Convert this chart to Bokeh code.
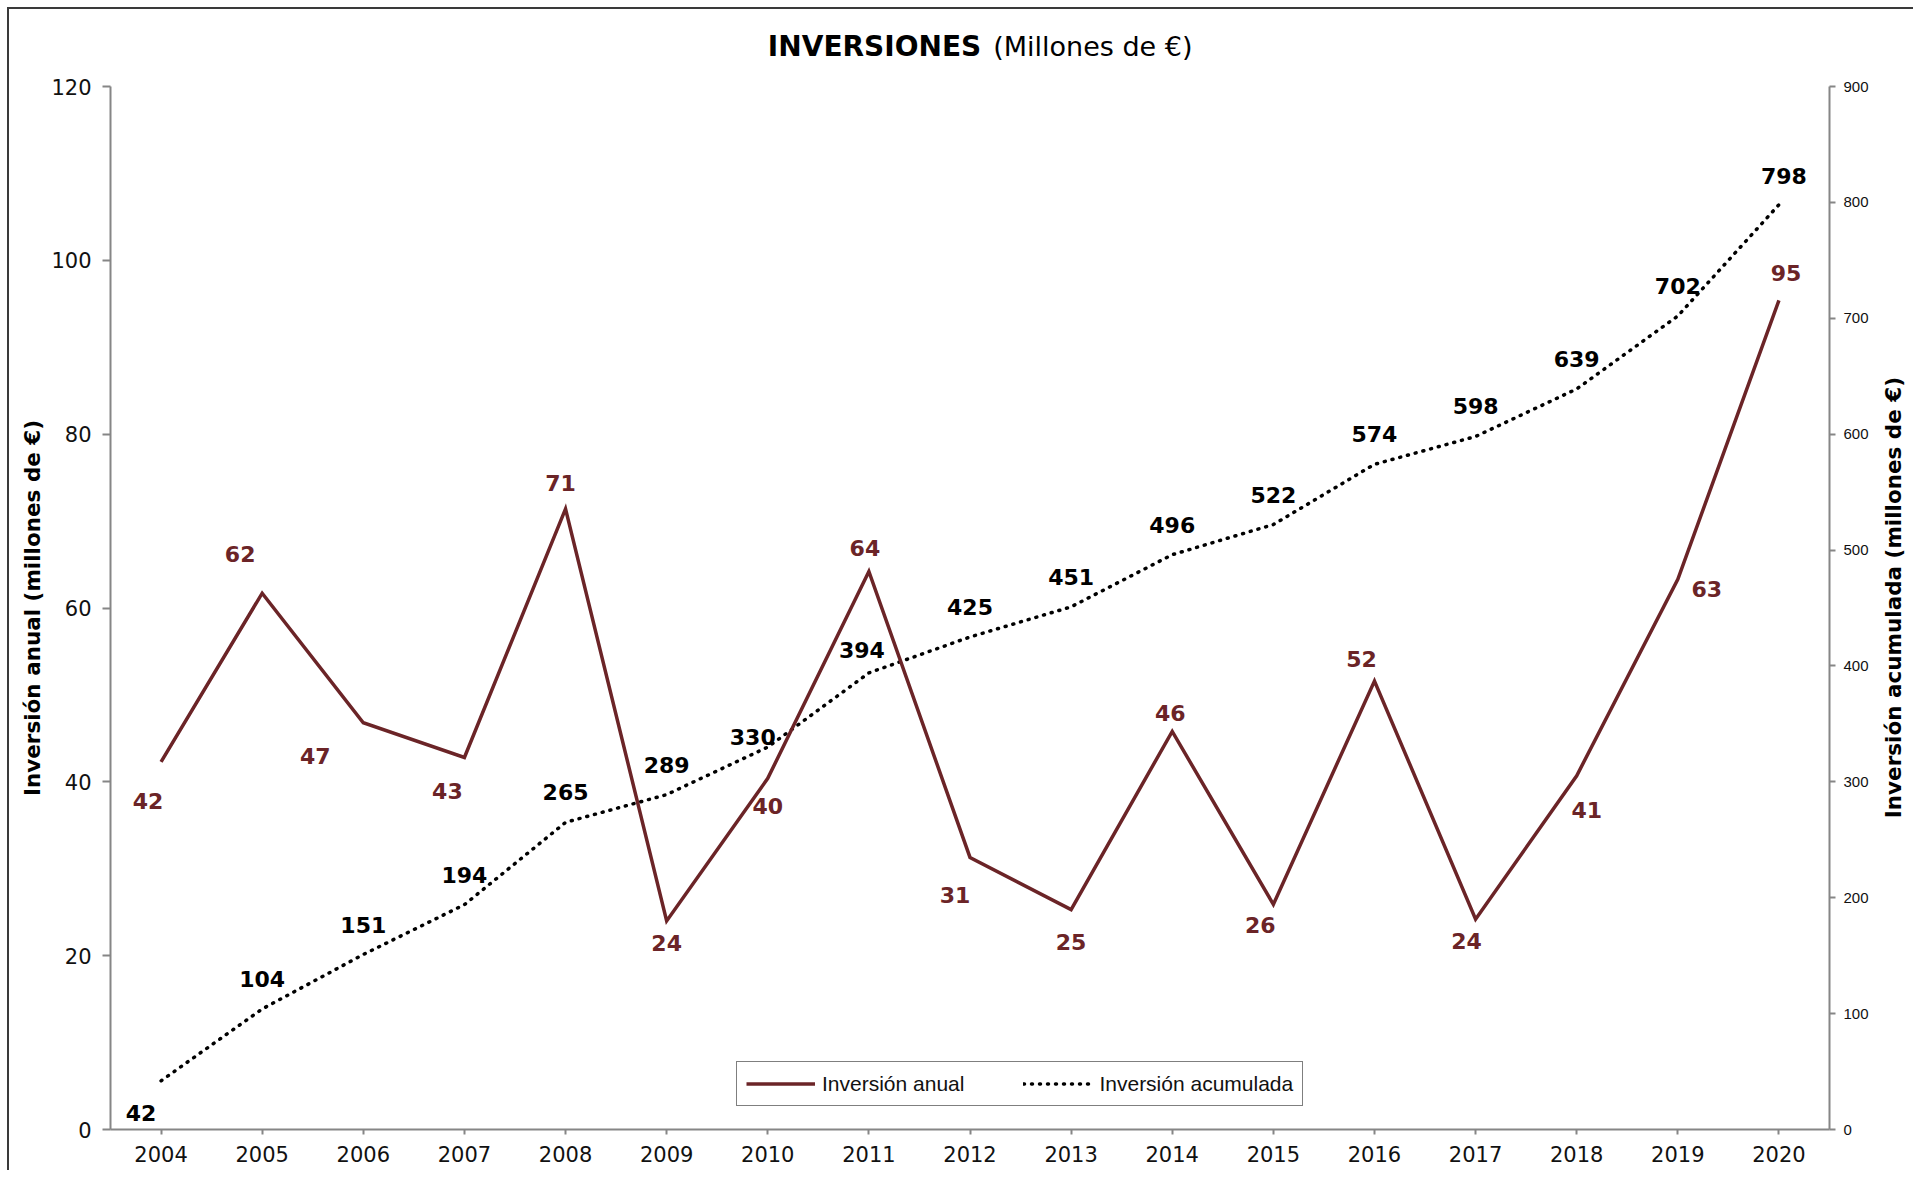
import math
from bokeh.plotting import figure
from bokeh.layouts import column, row
from bokeh.models import (ColumnDataSource, Range1d, LinearAxis, FixedTicker,
                          Label, Legend, LegendItem)
from bokeh.core.properties import value
from bokeh.embed import file_html
from bokeh.resources import INLINE

# ---------------- data ----------------
years = [2004, 2005, 2006, 2007, 2008, 2009, 2010, 2011, 2012, 2013, 2014,
         2015, 2016, 2017, 2018, 2019, 2020]
inversion_anual = [42.3, 61.7, 46.8, 42.8, 71.4, 24.0, 40.4, 64.2, 31.3, 25.3,
                   45.8, 25.9, 51.6, 24.2, 40.7, 63.3, 95.4]
inversion_acumulada = [42, 104, 151, 194, 265, 289, 330, 394, 425, 451, 496,
                       522, 574, 598, 639, 702, 798]
anual_labels = ["42", "62", "47", "43", "71", "24", "40", "64", "31", "25",
                "46", "26", "52", "24", "41", "63", "95"]
acum_labels = ["42", "104", "151", "194", "265", "289", "330", "394", "425",
               "451", "496", "522", "574", "598", "639", "702", "798"]
left_ticks = [0, 20, 40, 60, 80, 100, 120]
right_ticks = [0, 100, 200, 300, 400, 500, 600, 700, 800, 900]
LEFT_MAX = 120
RIGHT_MAX = 900

# label placement (screen px, +down)
anual_dx = [-13, -22, -48, -17, -5, 0, 0, -4, -15, 0, -2, -13, -13, -9, 10, 29, 7]
anual_dy = [39, -39, 33, 34, -26, 22, 28, -23, 38, 32, -18, 21, -22, 22, 34, 10, -27]
acum_dx = [-20, 0, 0, 0, 0, 0, -15, -7, 0, 0, 0, 0, 0, 0, 0, 0, 5]
acum_dy = [32, -30, -30, -30, -30, -30, -10, -23, -30, -30, -30, -30, -30, -30, -30, -30, -29]

BROWN = "#6B2427"
AXIS_GREY = "#868686"

src_a = ColumnDataSource(dict(x=years, y=inversion_anual, t=anual_labels,
                              dx=anual_dx, dy=anual_dy))
src_c = ColumnDataSource(dict(x=years, y=inversion_acumulada, t=acum_labels,
                              dx=acum_dx, dy=acum_dy))

EDGE = 9            # outer frame offset (margin + border line)
MAIN_W, MAIN_H = 1866, 1100
TITLE_H = 70 - EDGE
SIDE_W = 38
LEFT_B = 110 - EDGE

xr = Range1d(years[0] - 0.5, years[-1] + 0.5)

# ---------------- main chart ----------------
p = figure(width=MAIN_W, height=MAIN_H, output_backend="svg", toolbar_location=None,
           x_range=xr, y_range=Range1d(0, LEFT_MAX),
           min_border_left=LEFT_B, min_border_right=46, min_border_top=16,
           min_border_bottom=41)
p.extra_y_ranges = {"acum": Range1d(0, RIGHT_MAX)}
p.xgrid.visible = False
p.ygrid.visible = False
p.outline_line_color = None
p.background_fill_color = "white"
p.border_fill_color = "white"

# bottom axis
xa = p.xaxis[0]
xa.ticker = FixedTicker(ticks=years)
xa.axis_line_color = AXIS_GREY
xa.axis_line_width = 2
xa.major_tick_line_color = AXIS_GREY
xa.major_tick_line_width = 2
xa.major_tick_out = 5
xa.major_tick_in = 0
xa.minor_tick_line_color = None
xa.major_label_text_font = "DejaVu Sans"
xa.major_label_text_font_size = "21px"
xa.major_label_text_color = "#111111"
xa.major_label_standoff = 11

# left axis
ya = p.yaxis[0]
ya.ticker = FixedTicker(ticks=left_ticks)
ya.axis_line_color = AXIS_GREY
ya.axis_line_width = 2
ya.major_tick_line_color = AXIS_GREY
ya.major_tick_line_width = 2
ya.major_tick_out = 8
ya.major_tick_in = 0
ya.minor_tick_line_color = None
ya.major_label_text_font = "DejaVu Sans"
ya.major_label_text_font_size = "21px"
ya.major_label_text_color = "#111111"
ya.major_label_standoff = 11
ya.axis_label = "Inversión anual (millones de €)"
ya.axis_label_text_font = "DejaVu Sans"
ya.axis_label_text_font_style = "bold"
ya.axis_label_text_font_size = "21.5px"
ya.axis_label_text_color = "#000000"
ya.axis_label_standoff = 3

# right axis
ra = LinearAxis(y_range_name="acum", ticker=FixedTicker(ticks=right_ticks))
ra.axis_line_color = AXIS_GREY
ra.axis_line_width = 2
ra.major_tick_line_color = AXIS_GREY
ra.major_tick_line_width = 2
ra.major_tick_out = 6
ra.major_tick_in = 0
ra.minor_tick_line_color = None
ra.major_label_text_font = "Liberation Sans"
ra.major_label_text_font_size = "15px"
ra.major_label_text_color = "#111111"
ra.major_label_standoff = 8
p.add_layout(ra, "right")

# lines
r_acum = p.line("x", "y", source=src_c, y_range_name="acum", line_color="black",
                line_width=3.5, line_dash="1 7", line_cap="round")
r_anual = p.line("x", "y", source=src_a, line_color=BROWN, line_width=3.5,
                 line_join="miter")

# data labels
p.text("x", "y", text="t", source=src_a, x_offset="dx", y_offset="dy",
       text_font=value("DejaVu Sans"), text_font_style="bold",
       text_font_size="22px", text_color=BROWN, text_align="center",
       text_baseline="middle")
p.text("x", "y", text="t", source=src_c, x_offset="dx", y_offset="dy",
       y_range_name="acum",
       text_font=value("DejaVu Sans"), text_font_style="bold",
       text_font_size="22px", text_color="black", text_align="center",
       text_baseline="middle")

# legend
legend = Legend(items=[LegendItem(label="Inversión anual", renderers=[r_anual]),
                       LegendItem(label="Inversión acumulada", renderers=[r_acum])],
                orientation="horizontal", location=(626, 23),
                glyph_width=69, glyph_height=25, label_height=25,
                label_standoff=7, spacing=59, padding=9, margin=0,
                label_text_font="Liberation Sans", label_text_font_size="21px",
                label_text_color="#111111",
                border_line_color="black", border_line_width=1.5,
                background_fill_color="white", background_fill_alpha=1)
p.add_layout(legend, "center")

# ---------------- title strip ----------------
tf = figure(width=MAIN_W, height=TITLE_H, output_backend="svg",
            toolbar_location=None, x_range=xr, y_range=Range1d(0, TITLE_H),
            x_axis_location=None, y_axis_location=None,
            min_border_left=LEFT_B, min_border_right=46, min_border_top=0,
            min_border_bottom=0)
tf.xgrid.visible = False
tf.ygrid.visible = False
tf.outline_line_color = None
tx = 2012.17
ty = TITLE_H - (46 - EDGE)
tf.add_layout(Label(x=tx, y=ty, x_offset=-6, text="INVERSIONES",
                    text_font="DejaVu Sans", text_font_style="bold",
                    text_font_size="28px", text_align="right",
                    text_baseline="middle", text_color="black"))
tf.add_layout(Label(x=tx, y=ty, x_offset=6, text="(Millones de  €)",
                    text_font="DejaVu Sans", text_font_size="27px",
                    text_align="left", text_baseline="middle",
                    text_color="black"))

# ---------------- right axis title strip ----------------
rf = figure(width=SIDE_W, height=MAIN_H, output_backend="svg",
            toolbar_location=None, x_range=Range1d(0, SIDE_W),
            y_range=Range1d(0, MAIN_H),
            x_axis_location=None, y_axis_location=None,
            min_border_left=0, min_border_right=0, min_border_top=0,
            min_border_bottom=0)
rf.xgrid.visible = False
rf.ygrid.visible = False
rf.outline_line_color = None
rf.add_layout(Label(x=18, y=MAIN_H - (609 - 70), angle=math.pi / 2,
                    text="Inversión acumulada (millones de €)",
                    text_font="DejaVu Sans", text_font_style="bold",
                    text_font_size="21.5px", text_align="center",
                    text_baseline="middle", text_color="black"))

layout = column(tf, row(p, rf, spacing=0), spacing=0,
                styles={"margin-left": "7px", "margin-top": "7px",
                        "border-top": "2px solid #3a3a3a",
                        "border-left": "2px solid #3a3a3a"})
open("out.html", "w").write(file_html(layout, INLINE))
